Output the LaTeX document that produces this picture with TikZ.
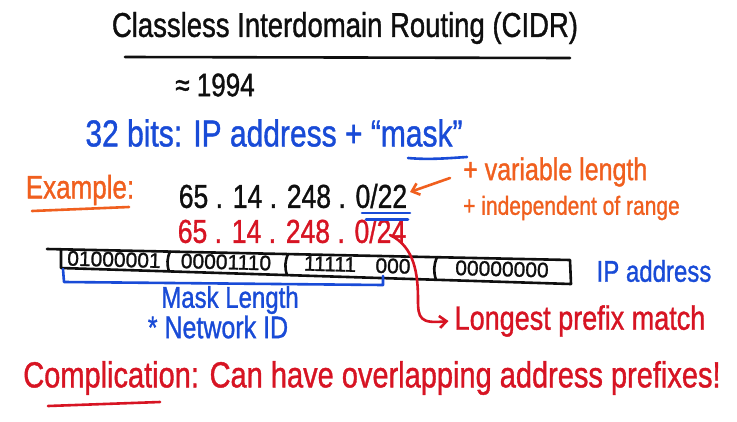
\documentclass[tikz,border=0pt]{standalone}
\usepackage{fontspec}
\usepackage{graphicx}
\setmainfont{Liberation Sans}[FakeBold=1.2]
\usetikzlibrary{arrows.meta}
\definecolor{inkblue}{RGB}{25,75,215}
\definecolor{inkorange}{RGB}{240,95,30}
\definecolor{inkred}{RGB}{215,20,35}
\definecolor{inkblack}{RGB}{15,15,15}
\newcommand\setfs[1]{\fontsize{#1}{#1}\selectfont}
\newcommand\tall[1]{\scalebox{1}[1.25]{#1}}
\begin{document}
\begin{tikzpicture}[x=1pt,y=-1pt,
  txt/.style={inner sep=0pt, anchor=center},
  pen/.style={line width=2.6pt, line cap=round, line join=round},
  blackpen/.style={pen, inkblack},
  bluepen/.style={pen, inkblue},
  orangepen/.style={pen, inkorange},
  redpen/.style={pen, inkred},
  barb/.style={-{Straight Barb[length=7pt,width=12pt]}},
  bits/.style={txt, inkblack, font=\setfs{21}, rotate=-1.5}]
\useasboundingbox (0,0) rectangle (737,421);
\fill[white] (0,0) rectangle (737,421);

% title
\node[txt, inkblack, font=\setfs{27.5}] (title) at (345,28) {\tall{Classless Interdomain Routing (CIDR)}};
\draw[blackpen] (125,57) -- (570,58);
\node[txt, inkblack, font=\setfs{26}] (year) at (215,85) {\tall{≈ 1994}};

% 32 bits line
\node[txt, inkblue, font=\setfs{30}] (bits32) at (274,133) {\tall{32 bits: IP address + “mask”}};
\draw[bluepen] (408,158) .. controls (430,160) and (450,158) .. (467,157);

% example
\node[txt, inkorange, font=\setfs{26}] (example) at (80,190) {\tall{Example:}};
\draw[orangepen] (32,211) -- (129,207);
\node[txt, inkblack, font=\setfs{26.5}] (addr22) at (293,196) {\tall{65 . 14 . 248 . 0/22}};
\node[txt, inkred, font=\setfs{26.5}] (addr24) at (292,231) {\tall{65 . 14 . 248 . 0/24}};
\draw[bluepen] (362,213) -- (410,213);
\draw[bluepen] (366,219.5) -- (408,219.5);

% orange notes
\node[txt, inkorange, font=\setfs{25}, anchor=west] (var) at (463,172) {\tall{+ variable length}};
\node[txt, inkorange, font=\setfs{21}, anchor=west] (indep) at (463,208) {\tall{+ independent of range}};
\coordinate (atail) at (450,178);
\coordinate (ahead) at (410,192);
\draw[orangepen, barb] (atail) -- (ahead);

% bit strip
\draw[blackpen] (47,249) -- (570,260) -- (571,284) -- (61,268) -- (61,249.3);
\draw[blackpen] (170,251.6) to[bend right=20] (169,271.4);
\draw[blackpen] (288,254.1) to[bend right=20] (287,275.1);
\draw[blackpen] (437,257.2) to[bend right=20] (436,279.8);
\node[bits] (o1) at (114,259.5) {01000001};
\node[bits] (o2) at (226,262) {00001110};
\node[bits] (o3a) at (330,264) {11111};
\node[bits] (o3b) at (393,266) {000};
\node[bits] (o4) at (502,269) {00000000};
\node[txt, inkblue, font=\setfs{24}] (ipaddr) at (654,271) {\tall{IP address}};

% mask bracket
\draw[bluepen] (63,269) -- (64,282) -- (383,285) -- (383,276);
\node[txt, inkblue, font=\setfs{24}] (masklen) at (230,300) {\tall{Mask Length}};
\node[txt, inkblue, font=\setfs{25}] (netid) at (218,327) {\tall{* Network ID}};

% longest prefix match
\node[txt, inkred, font=\setfs{27}] (lpm) at (580,321) {\tall{Longest prefix match}};
\coordinate (rstart) at (390,235);
\draw[redpen, barb] (rstart) .. controls (415,247) and (418,275) .. (418,300)
  .. controls (418,318) and (420,324) .. ([xshift=-6pt]lpm.west);

% complication
\node[txt, inkred, font=\setfs{29}] (compl) at (372,378) {\tall{Complication: Can have overlapping address prefixes!}};
\draw[redpen] (48,406) -- (160,402);
\end{tikzpicture}
\end{document}
